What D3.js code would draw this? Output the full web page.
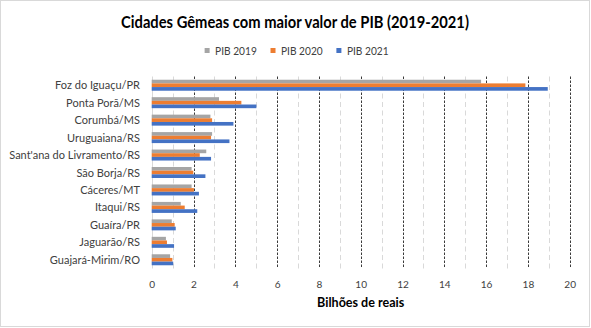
<!DOCTYPE html>
<html>
<head>
<meta charset="utf-8">
<script src="https://cdn.jsdelivr.net/npm/d3@7"></script>
<style>
  html, body { margin: 0; padding: 0; background: #fff; }
  svg { display: block; font-family: Lato, "Open Sans", sans-serif; }
</style>
</head>
<body>
<svg id="chart" width="591" height="328"></svg>
<script>
// Cities (top to bottom) and GDP per year, in billions of reais
const categories = [
  "Foz do Iguaçu/PR", "Ponta Porã/MS", "Corumbá/MS", "Uruguaiana/RS",
  "Sant'ana do Livramento/RS", "São Borja/RS", "Cáceres/MT", "Itaqui/RS",
  "Guaíra/PR", "Jaguarão/RS", "Guajará-Mirim/RO"
];
const pib2019 = [15.76, 3.22, 2.81, 2.89, 2.61, 1.91, 1.91, 1.39, 0.96, 0.68, 0.88];
const pib2020 = [17.88, 4.29, 2.89, 2.84, 2.30, 1.99, 2.02, 1.58, 1.10, 0.73, 0.99];
const pib2021 = [18.95, 5.01, 3.91, 3.72, 2.84, 2.57, 2.26, 2.18, 1.15, 1.07, 1.03];
const seriesNames = ["PIB 2019", "PIB 2020", "PIB 2021"];
const seriesColors = ["#A5A5A5", "#ED7D31", "#4472C4"];
const xTicks = [0, 2, 4, 6, 8, 10, 12, 14, 16, 18, 20];
const xMinorTicks = [1, 3, 5, 7, 9, 11, 13, 15, 17, 19];

const titleText = "Cidades Gêmeas com maior valor de PIB (2019-2021)";
const axisTitle = "Bilhões de reais";

const svg = d3.select("#chart");
const plot = { left: 151.7, right: 569.7, top: 76.5, bottom: 268.5 };

// Horizontal squeeze factor so that a text, at a given size, spans a given width
function squeeze(node, size, target) {
  d3.select(node).attr("font-size", size);
  return target / node.getComputedTextLength();
}
const hScale = (ax, sx) => `translate(${ax},0) scale(${sx},1) translate(${-ax},0)`;

// Outer frame
svg.append("rect")
  .attr("x", 0.5).attr("y", 0.5).attr("width", 589).attr("height", 326)
  .attr("fill", "#fff").attr("stroke", "#D9D9D9").attr("stroke-width", 1);

// Scales
const x = d3.scaleLinear().domain([0, 20]).range([plot.left, plot.right]);
const y = d3.scaleBand().domain(categories).range([plot.top, plot.bottom])
  .paddingInner(0.37).paddingOuter(0.185);
const ySub = d3.scaleBand().domain(seriesNames).range([0, y.bandwidth()]);

const crisp = v => Math.round(v) + 0.5;

// Minor gridlines (odd values)
svg.append("g").selectAll("line").data(xMinorTicks).join("line")
  .attr("x1", d => crisp(x(d))).attr("x2", d => crisp(x(d)))
  .attr("y1", plot.top).attr("y2", plot.bottom)
  .attr("stroke", "#D9D9D9").attr("stroke-width", 1)
  .attr("stroke-dasharray", "5,3.5");

// Major gridlines (even values)
svg.append("g").selectAll("line").data(xTicks.filter(d => d > 0)).join("line")
  .attr("x1", d => crisp(x(d))).attr("x2", d => crisp(x(d)))
  .attr("y1", plot.top).attr("y2", plot.bottom)
  .attr("stroke", "#3A3A3A").attr("stroke-width", 1)
  .attr("stroke-dasharray", "2.5,1.5");

// Category axis line
svg.append("line")
  .attr("x1", crisp(x(0))).attr("x2", crisp(x(0)))
  .attr("y1", plot.top).attr("y2", plot.bottom)
  .attr("stroke", "#D9D9D9").attr("stroke-width", 1);

// Bars
const rows = categories.map((c, i) => ({
  city: c,
  values: [pib2019[i], pib2020[i], pib2021[i]]
}));
const groups = svg.append("g").selectAll("g").data(rows).join("g")
  .attr("transform", d => `translate(0,${y(d.city)})`);
groups.selectAll("rect")
  .data(d => d.values.map((v, k) => ({ name: seriesNames[k], value: v, color: seriesColors[k] })))
  .join("rect")
  .attr("x", x(0))
  .attr("y", d => ySub(d.name))
  .attr("width", d => x(d.value) - x(0))
  .attr("height", ySub.bandwidth())
  .attr("fill", d => d.color);

// Category labels
const catSize = 10.6;
const catGroup = svg.append("g");
const catLabels = catGroup.selectAll("text").data(categories).join("text")
  .attr("x", 140)
  .attr("y", d => y(d) + y.bandwidth() / 2)
  .attr("dy", "0.38em")
  .attr("text-anchor", "end")
  .attr("font-size", catSize)
  .attr("fill", "#404040")
  .text(d => d);
const catSx = squeeze(catLabels.filter(d => d === "Sant'ana do Livramento/RS").node(), catSize, 130.7);
catGroup.attr("transform", hScale(140, catSx));

// Value axis tick labels
const xAxis = svg.append("g")
  .attr("transform", `translate(0,${plot.bottom})`)
  .call(d3.axisBottom(x).tickValues(xTicks).tickSize(0).tickPadding(0).tickFormat(d3.format("d")));
xAxis.select(".domain").remove();
const tickSize = 10;
const tickTexts = xAxis.selectAll("text")
  .attr("y", 288 - plot.bottom).attr("dy", 0)
  .attr("fill", "#404040")
  .attr("font-family", "Lato, 'Open Sans', sans-serif")
  .attr("font-size", tickSize);
const tickSx = squeeze(tickTexts.filter(d => d === 20).node(), tickSize, 11.7);
tickTexts.attr("transform", `scale(${tickSx},1)`);

// Value axis title
const axX = (plot.left + plot.right) / 2;
const at = svg.append("text")
  .attr("x", axX).attr("y", 307)
  .attr("text-anchor", "middle")
  .attr("font-weight", "bold")
  .attr("fill", "#000")
  .text(axisTitle);
at.attr("transform", hScale(axX, squeeze(at.node(), 13.6, 87.3)));

// Chart title
const tt = svg.append("text")
  .attr("x", 295).attr("y", 28)
  .attr("text-anchor", "middle")
  .attr("font-weight", "bold")
  .attr("fill", "#000")
  .text(titleText);
tt.attr("transform", hScale(295, squeeze(tt.node(), 17.2, 348)));

// Legend
const legSize = 10.6;
const legend = svg.append("g");
const items = legend.selectAll("g").data(seriesNames).join("g");
items.append("rect")
  .attr("y", 48).attr("width", 5).attr("height", 5)
  .attr("fill", (d, i) => seriesColors[i]);
const legendTexts = items.append("text")
  .attr("x", 10.5).attr("y", 55)
  .attr("font-size", legSize)
  .attr("fill", "#404040")
  .text(d => d);
const legSx = squeeze(legendTexts.filter((d, i) => i === 0).node(), legSize, 41.7);
legendTexts.attr("transform", hScale(10.5, legSx));
const widths = [];
legendTexts.each(function () { widths.push(this.getComputedTextLength() * legSx); });
let cursor = 0;
const offsets = widths.map(w => { const o = cursor; cursor += 10.5 + w + 13.7; return o; });
const legendStart = 296.6 - (cursor - 13.7) / 2;
items.attr("transform", (d, i) => `translate(${legendStart + offsets[i]},0)`);
</script>
</body>
</html>
